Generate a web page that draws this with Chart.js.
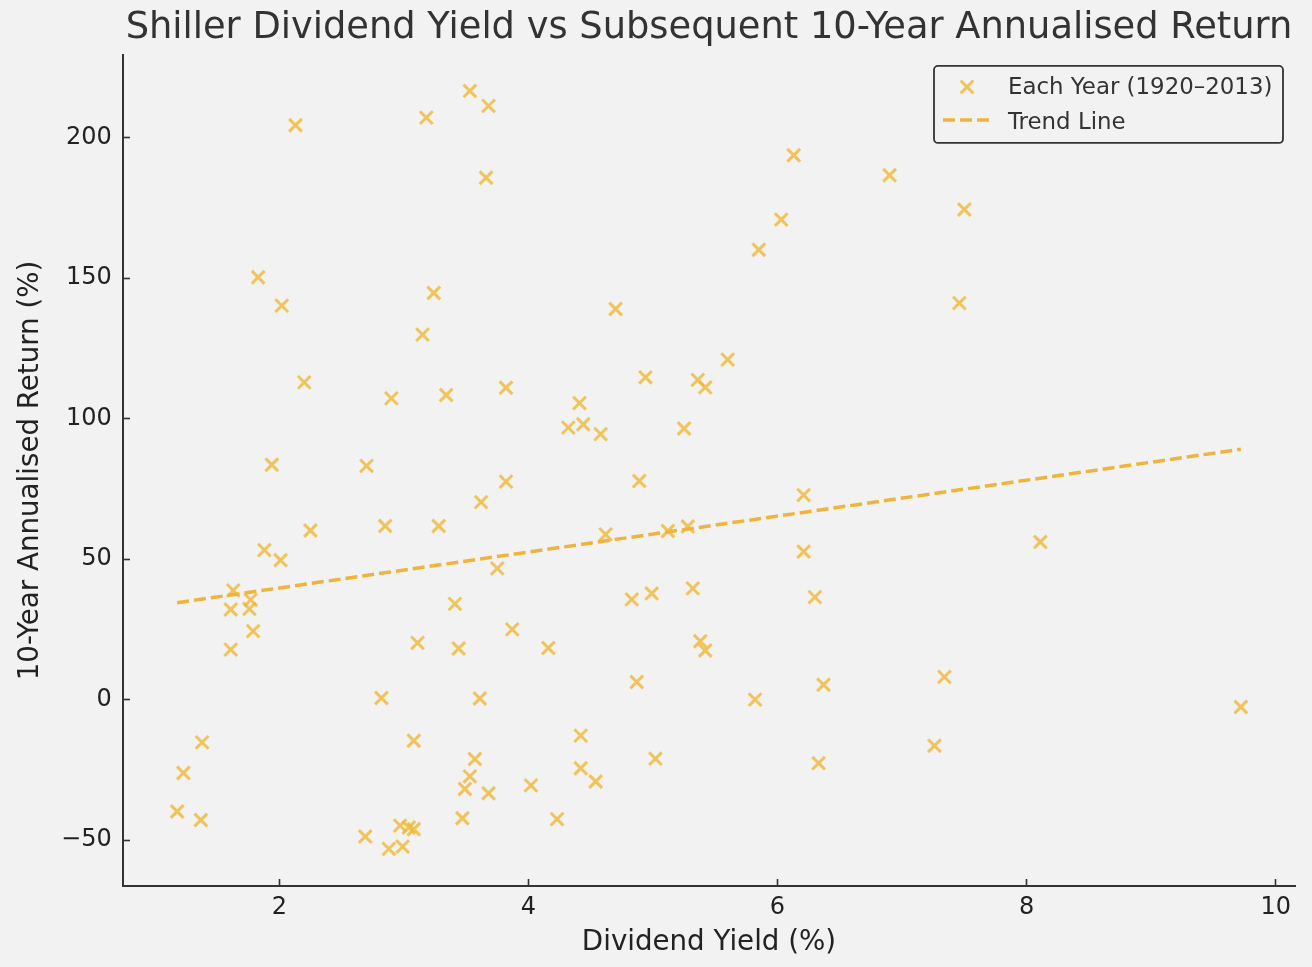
<!DOCTYPE html>
<html>
<head>
<meta charset="utf-8">
<title>Shiller Dividend Yield vs Subsequent 10-Year Annualised Return</title>
<script src="https://cdn.jsdelivr.net/npm/chart.js@4.4.1/dist/chart.umd.min.js"></script>
<style>
  html, body { margin: 0; padding: 0; background: #f2f2f2; }
  #wrap { width: 1312px; height: 967px; }
</style>
</head>
<body>
<div id="wrap"><canvas id="yieldChart"></canvas></div>
<script>
// one point per year, 1920-2013
const dividendYield = [
  1.18, 1.23, 1.37, 1.38, 1.61, 1.61, 1.63, 1.76, 1.77, 1.79,
  1.83, 1.88, 1.94, 2.01, 2.02, 2.13, 2.20, 2.25, 2.69, 2.70,
  2.82, 2.85, 2.88, 2.90, 2.97, 2.99, 3.04, 3.08, 3.08, 3.11,
  3.15, 3.18, 3.24, 3.28, 3.34, 3.41, 3.44, 3.47, 3.49, 3.53,
  3.53, 3.57, 3.61, 3.62, 3.66, 3.68, 3.68, 3.75, 3.82, 3.82,
  3.87, 4.02, 4.16, 4.23, 4.32, 4.41, 4.42, 4.42, 4.44, 4.54,
  4.58, 4.62, 4.70, 4.83, 4.87, 4.89, 4.94, 4.99, 5.02, 5.12,
  5.25, 5.28, 5.32, 5.36, 5.38, 5.42, 5.42, 5.60, 5.82, 5.85,
  6.03, 6.13, 6.21, 6.21, 6.30, 6.33, 6.37, 6.90, 7.26, 7.34,
  7.46, 7.50, 8.11, 9.72
];
const tenYearReturn = [
  -39.8, -26.1, -42.8, -15.2, 17.8, 32.1, 38.9, 32.3, 35.5, 24.4,
  150.3, 53.2, 83.6, 49.6, 140.2, 204.4, 112.9, 60.2, -48.7, 83.2,
  0.6, 61.8, -53.1, 107.2, -44.8, -52.3, -45.5, -46.1, -14.6, 20.2,
  129.9, 207.1, 144.7, 61.8, 108.4, 34.1, 18.2, -42.2, -31.8, -27.3,
  216.6, -21.1, 0.4, 70.3, 185.7, -33.3, 211.3, 46.7, 77.6, 111.0,
  25.0, -30.5, 18.4, -42.5, 96.8, 105.5, -12.8, -24.4, 98.0, -29.1,
  94.5, 58.8, 139.0, 35.7, 6.3, 77.8, 114.7, 37.8, -21.0, 60.0,
  96.5, 61.6, 39.6, 113.8, 20.8, 111.1, 17.5, 121.0, 0.0, 160.1,
  170.8, 193.7, 72.8, 52.7, 36.5, -22.6, 5.3, 186.6, -16.4, 8.1,
  141.1, 174.4, 56.1, -2.6
];

// trend line end points
const trendX = [1.18, 9.72];
const trendY = [34.5, 89.1];

const xTicks = [2, 4, 6, 8, 10];
const yTicks = [-50, 0, 50, 100, 150, 200];

const markerColor = 'rgba(240, 180, 40, 0.75)';
const lineColor = '#f0b43c';
const inkColor = '#333333';
const fontFamily = '"DejaVu Sans", "Liberation Sans", sans-serif';

// legend drawn inside the plot, top right, with a rounded frame
const boxLegend = {
  id: 'boxLegend',
  afterDraw(chart) {
    const { ctx, chartArea } = chart;
    const sets = chart.data.datasets;
    const w = 349, h = 77;
    const left = chartArea.right - 12 - w;
    const top = chartArea.top + 11;

    ctx.save();
    ctx.beginPath();
    ctx.roundRect(left, top, w, h, 4);
    ctx.fillStyle = 'rgba(242, 242, 242, 0.85)';
    ctx.fill();
    ctx.lineWidth = 1.8;
    ctx.strokeStyle = inkColor;
    ctx.stroke();

    // scatter marker
    const mx = left + 33, my = top + 21, d = 6.4;
    ctx.beginPath();
    ctx.moveTo(mx - d, my - d); ctx.lineTo(mx + d, my + d);
    ctx.moveTo(mx + d, my - d); ctx.lineTo(mx - d, my + d);
    ctx.strokeStyle = markerColor;
    ctx.lineWidth = 3;
    ctx.stroke();

    // dashed trend sample
    ctx.beginPath();
    ctx.setLineDash([12, 5]);
    ctx.moveTo(left + 9, top + 54);
    ctx.lineTo(left + 55, top + 54);
    ctx.strokeStyle = lineColor;
    ctx.lineWidth = 3.5;
    ctx.stroke();
    ctx.setLineDash([]);

    ctx.font = '22.9px ' + fontFamily;
    ctx.fillStyle = inkColor;
    ctx.textAlign = 'left';
    ctx.textBaseline = 'alphabetic';
    ctx.fillText(sets[0].label, left + 74, top + 28.5);
    ctx.fillText(sets[1].label, left + 74, top + 63);
    ctx.restore();
  }
};

const minusLabel = v => (v < 0 ? '\u2212' + Math.abs(v) : String(v));

const ctx = document.getElementById('yieldChart').getContext('2d');
new Chart(ctx, {
  type: 'scatter',
  data: {
    datasets: [
      {
        label: 'Each Year (1920\u20132013)',
        data: dividendYield.map((x, i) => ({ x: x, y: tenYearReturn[i] })),
        pointStyle: 'crossRot',
        pointRadius: 9,
        pointHoverRadius: 9,
        pointBorderWidth: 3,
        pointHoverBorderWidth: 3,
        borderColor: markerColor,
        backgroundColor: markerColor,
        order: 2
      },
      {
        type: 'line',
        label: 'Trend Line',
        data: trendX.map((x, i) => ({ x: x, y: trendY[i] })),
        borderColor: lineColor,
        borderWidth: 3.5,
        borderDash: [12, 5],
        pointRadius: 0,
        fill: false,
        order: 1
      }
    ]
  },
  options: {
    responsive: true,
    maintainAspectRatio: false,
    animation: false,
    layout: { padding: { left: 0, right: 17, top: 0, bottom: 0 } },
    plugins: {
      legend: { display: false },
      tooltip: { enabled: false },
      title: {
        display: true,
        fullSize: false,
        text: 'Shiller Dividend Yield vs Subsequent 10-Year Annualised Return',
        color: inkColor,
        font: { family: fontFamily, size: 36.8, weight: 'normal', lineHeight: 1.2 },
        padding: { top: 6.2, bottom: 4.6 }
      }
    },
    scales: {
      x: {
        type: 'linear',
        min: 0.745,
        max: 10.155,
        afterBuildTicks: scale => { scale.ticks = xTicks.map(v => ({ value: v })); },
        afterFit: scale => { scale.height = 81; },
        border: { display: true, color: inkColor, width: 2 },
        grid: { drawOnChartArea: false, drawTicks: true, tickLength: -7, tickWidth: 1.6, color: inkColor },
        ticks: {
          color: '#222',
          padding: 14.6,
          font: { family: fontFamily, size: 24 },
          callback: v => String(v)
        },
        title: {
          display: true,
          text: 'Dividend Yield (%)',
          color: '#222',
          font: { family: fontFamily, size: 27.7 },
          padding: { top: 0, bottom: 7.6 }
        }
      },
      y: {
        type: 'linear',
        min: -66.3,
        max: 229.4,
        afterBuildTicks: scale => { scale.ticks = yTicks.map(v => ({ value: v })); },
        afterFit: scale => { scale.width = 123; },
        border: { display: true, color: inkColor, width: 2 },
        grid: { drawOnChartArea: false, drawTicks: true, tickLength: -7, tickWidth: 1.6, color: inkColor },
        ticks: {
          color: '#222',
          padding: 18.3,
          font: { family: fontFamily, size: 24 },
          callback: v => minusLabel(v)
        },
        title: {
          display: true,
          text: '10-Year Annualised Return (%)',
          color: '#222',
          font: { family: fontFamily, size: 27.7 },
          padding: { top: 14.2, bottom: 0 }
        }
      }
    }
  },
  plugins: [boxLegend]
});
</script>
</body>
</html>
